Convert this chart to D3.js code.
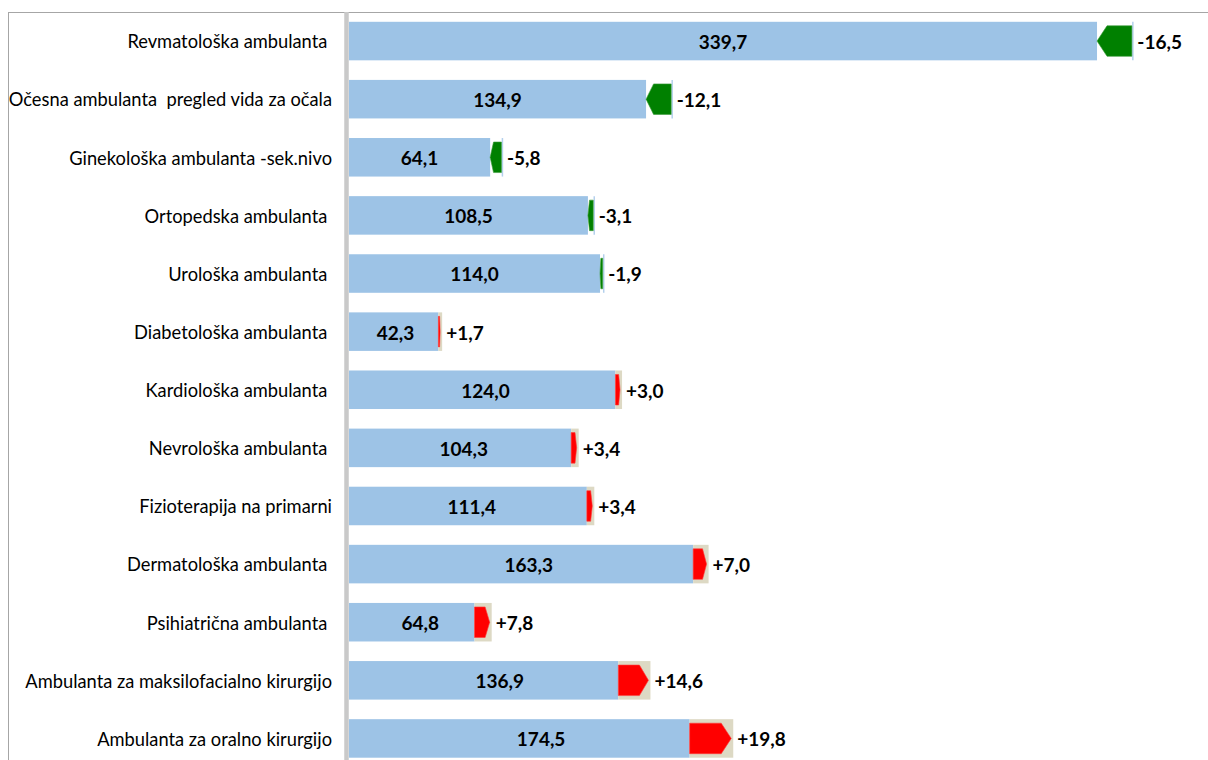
<!DOCTYPE html>
<html>
<head>
<meta charset="utf-8">
<script src="https://cdn.jsdelivr.net/npm/d3@7"></script>
<style>
  body { margin: 0; background: #fff; }
  svg text { font-family: Lato, "Open Sans", sans-serif; white-space: pre; }
</style>
</head>
<body>
<script>
// categories, current values and the change against the previous period
let categories = [
  "Revmatološka ambulanta ",
  "Očesna ambulanta  pregled vida za očala",
  "Ginekološka ambulanta -sek.nivo",
  "Ortopedska ambulanta ",
  "Urološka ambulanta ",
  "Diabetološka ambulanta ",
  "Kardiološka ambulanta ",
  "Nevrološka ambulanta ",
  "Fizioterapija na primarni",
  "Dermatološka ambulanta ",
  "Psihiatrična ambulanta ",
  "Ambulanta za maksilofacialno kirurgijo",
  "Ambulanta za oralno kirurgijo"
]
let values = [339.7, 134.9, 64.1, 108.5, 114.0, 42.3, 124.0, 104.3, 111.4, 163.3, 64.8, 136.9, 174.5]
let changes = [-16.5, -12.1, -5.8, -3.1, -1.9, 1.7, 3.0, 3.4, 3.4, 7.0, 7.8, 14.6, 19.8]

function plot() {
  let width = 1208, height = 760

  let data = categories.map((c, i) => ({
    name: c,
    value: values[i],
    change: changes[i],
    lo: Math.min(values[i], values[i] - changes[i]),
    hi: Math.max(values[i], values[i] - changes[i])
  }))

  let svg = d3.select("body").append("svg")
    .attr("width", width)
    .attr("height", height)

  // plot area frame (runs off the right and bottom edges)
  svg.append("rect")
    .attr("x", 8.5).attr("y", 12.5)
    .attr("width", 1300).attr("height", 900)
    .attr("fill", "none")
    .attr("stroke", "#a6a6a6")

  let x = d3.scaleLinear().domain([0, 390]).range([349, 349 + 390 * 2.202])
  let y = d3.scaleBand().domain(categories).range([12, 767.5])
    .paddingInner(0.337).paddingOuter(0.1685)

  // vertical axis line
  svg.append("line")
    .attr("x1", 346.5).attr("x2", 346.5)
    .attr("y1", 12).attr("y2", height)
    .attr("stroke", "#c9c9c9").attr("stroke-width", 4.5)

  let row = svg.selectAll(".row").data(data).enter().append("g")
    .attr("class", "row")
    .attr("transform", d => "translate(0," + y(d.name) + ")")

  let bh = y.bandwidth()

  // base bar: the smaller of current and previous value
  row.append("rect")
    .attr("x", x(0))
    .attr("width", d => x(d.lo) - x(0))
    .attr("height", bh)
    .attr("fill", "#9dc3e6")

  // background of the change
  row.filter(d => d.change > 0).append("rect")
    .attr("x", d => x(d.lo))
    .attr("width", d => x(d.hi) - x(d.lo))
    .attr("height", bh)
    .attr("fill", "#ddd9c4")

  row.filter(d => d.change < 0).append("line")
    .attr("x1", d => x(d.hi) - 0.5).attr("x2", d => x(d.hi) - 0.5)
    .attr("y1", 0).attr("y2", bh)
    .attr("stroke", "#b4d0ec").attr("stroke-width", 1.5)

  // arrows: red to the right for growth, green to the left for decline
  let inset = 4
  function arrow(d) {
    let t = inset, b = bh - inset, m = bh / 2
    if (d.change > 0) {
      let x1 = x(d.lo), x2 = x(d.hi) - 2
      let tip = Math.min(10, (x2 - x1) * 0.3)
      return "M" + x1 + "," + t + "L" + (x2 - tip) + "," + t + "L" + x2 + "," + m +
        "L" + (x2 - tip) + "," + b + "L" + x1 + "," + b + "Z"
    } else {
      let x1 = x(d.lo), x2 = x(d.hi) - 1.5
      let tip = Math.min(10, (x2 - x1) * 0.3)
      return "M" + x2 + "," + t + "L" + (x1 + tip) + "," + t + "L" + x1 + "," + m +
        "L" + (x1 + tip) + "," + b + "L" + x2 + "," + b + "Z"
    }
  }
  row.append("path")
    .attr("d", arrow)
    .attr("fill", d => d.change > 0 ? "#ff0000" : "#008000")
    .attr("stroke", d => d.change > 0 ? "#ff3b3b" : "#3a9a3a")
    .attr("stroke-width", 0.6)

  // value labels, centred on the current value
  row.append("text")
    .attr("x", d => x(d.value / 2))
    .attr("y", bh / 2)
    .attr("dy", "0.42em")
    .attr("text-anchor", "middle")
    .attr("font-weight", "bold")
    .attr("font-size", 19)
    .attr("fill", "#000")
    .text(d => d3.format(".1f")(d.value).replace(".", ","))

  // change labels
  row.append("text")
    .attr("x", d => x(d.hi) + 4)
    .attr("y", bh / 2)
    .attr("dy", "0.42em")
    .attr("font-weight", "bold")
    .attr("font-size", 19)
    .attr("fill", "#000")
    .text(d => (d.change > 0 ? "+" : "") + d3.format(".1f")(d.change).replace(".", ",").replace("−", "-"))

  // category labels
  row.append("text")
    .attr("x", 332)
    .attr("y", bh / 2)
    .attr("dy", "0.4em")
    .attr("text-anchor", "end")
    .attr("font-size", 18.3)
    .attr("fill", "#000")
    .text(d => d.name)
}

plot()
</script>
</body>
</html>
